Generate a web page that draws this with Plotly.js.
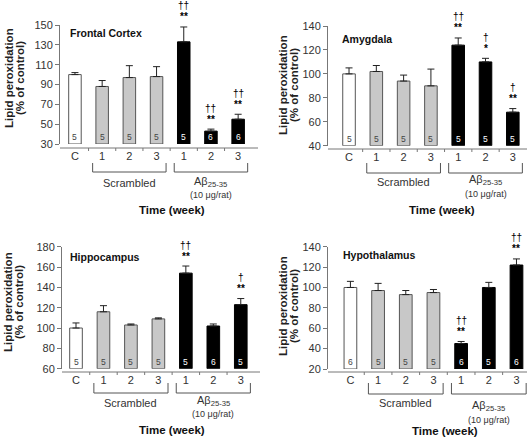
<!DOCTYPE html>
<html><head><meta charset="utf-8">
<script src="https://cdn.plot.ly/plotly-3.0.1.min.js"></script>
<style>html,body{margin:0;padding:0;background:#fff}#chart{width:532px;height:442px}</style>
</head><body><div id="chart"></div>
<script>
// ---------- data ----------
const tickLabels = ["C", "1", "2", "3", "1", "2", "3"];
const groupNames = ["Control", "Scrambled", "Scrambled", "Scrambled", "Aβ25-35", "Aβ25-35", "Aβ25-35"];

const frontalVals = [100, 88, 97, 98, 133, 43, 55];
const frontalErr  = [2, 6, 12, 10, 15, 2, 5];
const frontalN    = [5, 5, 5, 5, 5, 6, 6];
const frontalDag  = ["", "", "", "", "††", "††", "††"];
const frontalStar = ["", "", "", "", "**", "**", "**"];

const amygVals = [100, 102, 94, 90, 124, 110, 68];
const amygErr  = [5, 5, 5, 14, 6, 3, 3];
const amygN    = [5, 5, 5, 5, 5, 5, 5];
const amygDag  = ["", "", "", "", "††", "†", "†"];
const amygStar = ["", "", "", "", "**", "*", "**"];

const hippoVals = [100, 116, 103, 109, 154, 102, 123];
const hippoErr  = [5, 6, 1, 1, 7, 2, 6];
const hippoN    = [5, 5, 5, 5, 5, 6, 5];
const hippoDag  = ["", "", "", "", "††", "", "†"];
const hippoStar = ["", "", "", "", "**", "", "**"];

const hypoVals = [100, 97, 93, 95, 45, 100, 122];
const hypoErr  = [6, 7, 4, 3, 2, 5, 6];
const hypoN    = [6, 5, 5, 5, 6, 5, 6];
const hypoDag  = ["", "", "", "", "††", "", "††"];
const hypoStar = ["", "", "", "", "**", "", "**"];

// ---------- layout config (pixels) ----------
const W = 532, H = 442;
const px = p => p / W;
const py = p => 1 - p / H;
const FONT = "Liberation Sans, Arial, sans-serif";

const panels = [
  {name: "Frontal Cortex", vals: frontalVals, errs: frontalErr, n: frontalN, dag: frontalDag, star: frontalStar,
   L: 60, R: 258, T: 25, B: 144, yr: [30, 150], xr: [-0.55, 6.73],
   titleX: 68, titleY: 33, ytX: [9, 20], ytY: 78, lineY: 148, brTop: 163, brBot: 172,
   scrY: 183, abY: 182, abSubY: 195, timeY: 210, timeX: 3.55},
  {name: "Amygdala", vals: amygVals, errs: amygErr, n: amygN, dag: amygDag, star: amygStar,
   L: 328, R: 527, T: 26, B: 145.7, yr: [40, 140], xr: [-0.77, 6.52],
   titleX: 340, titleY: 39, ytX: [283, 294], ytY: 85, lineY: 149, brTop: 163, brBot: 173,
   scrY: 182, abY: 180, abSubY: 194, timeY: 210, timeX: 3.4},
  {name: "Hippocampus", vals: hippoVals, errs: hippoErr, n: hippoN, dag: hippoDag, star: hippoStar,
   L: 62, R: 260, T: 246.7, B: 368.7, yr: [60, 180], xr: [-0.51, 6.7],
   titleX: 68, titleY: 257, ytX: [8, 19], ytY: 302, lineY: 372, brTop: 383, brBot: 393,
   scrY: 403, abY: 401, abSubY: 414, timeY: 430, timeX: 3.5},
  {name: "Hypothalamus", vals: hypoVals, errs: hypoErr, n: hypoN, dag: hypoDag, star: hypoStar,
   L: 328, R: 527, T: 246.7, B: 369, yr: [20, 140], xr: [-0.81, 6.38],
   titleX: 341, titleY: 255, ytX: [283, 294], ytY: 306, lineY: 372, brTop: 383, brBot: 394,
   scrY: 403, abY: 406, abSubY: 420, timeY: 431, timeX: 3.4}
];

const fillFor = i => i === 0 ? "#ffffff" : (i < 4 ? "#c8c8c8" : "#000000");
const lineFor = i => i === 0 ? "#555555" : (i < 4 ? "#555555" : "#000000");

const traces = [];
const layout = {
  width: W, height: H, margin: {l: 0, r: 0, t: 0, b: 0},
  paper_bgcolor: "#fff", plot_bgcolor: "rgba(0,0,0,0)",
  font: {family: FONT, color: "#333"},
  showlegend: false, annotations: [], shapes: []
};

panels.forEach((p, k) => {
  const sfx = k === 0 ? "" : String(k + 1);
  const xa = "x" + sfx, ya = "y" + sfx;
  const idx = p.vals.map((_, i) => i);
  const base = p.yr[0];
  traces.push({
    type: "bar", x: idx, y: p.vals.map(v => v - base), base: base, width: 0.46,
    customdata: groupNames, hoverinfo: "none",
    marker: {color: idx.map(fillFor), line: {color: idx.map(lineFor), width: 1}},
    error_y: {type: "data", symmetric: false, array: p.errs, arrayminus: p.errs.map(() => 0),
              color: "#222", thickness: 1, width: 3.5},
    xaxis: xa, yaxis: ya, showlegend: false
  });
  layout["xaxis" + sfx] = {
    domain: [px(p.L), px(p.R)], range: p.xr, anchor: "free", position: py(p.lineY),
    tickmode: "array", tickvals: idx, ticktext: tickLabels, ticks: "",
    showline: false, showgrid: false, zeroline: false, fixedrange: true,
    tickfont: {size: 11, color: "#333", family: FONT}
  };
  layout["yaxis" + sfx] = {
    domain: [py(p.B), py(p.T)], range: p.yr, anchor: xa, dtick: 20, tick0: p.yr[0],
    showline: true, linecolor: "#777", linewidth: 1, ticks: "outside", ticklen: 4,
    tickcolor: "#777", showgrid: false, zeroline: false, fixedrange: true,
    tickfont: {size: 11, color: "#333", family: FONT}
  };
  // x axis line offset below bars, with ticks at category boundaries
  layout.shapes.push({type: "line", xref: "paper", yref: "paper", x0: px(p.L), x1: px(p.R),
    y0: py(p.lineY), y1: py(p.lineY), line: {color: "#777", width: 1}});
  for (let i = 0; i < idx.length - 1; i++) {
    layout.shapes.push({type: "line", xref: xa, yref: "paper", x0: i + 0.5, x1: i + 0.5,
      y0: py(p.lineY), y1: py(p.lineY + 3), line: {color: "#777", width: 1}});
  }
  // group brackets
  [[0.65, 3.35], [3.65, 6.35]].forEach(([a, b]) => {
    layout.shapes.push({type: "path", xref: xa, yref: "paper",
      path: `M ${a},${py(p.brTop)} L ${a},${py(p.brBot)} L ${b},${py(p.brBot)} L ${b},${py(p.brTop)}`,
      line: {color: "#555", width: 1}});
  });
  // n labels and significance markers
  idx.forEach(i => {
    layout.annotations.push({xref: xa, yref: ya, x: i, y: base, yanchor: "bottom", yshift: 0,
      text: String(p.n[i]), showarrow: false,
      font: {size: 8.5, color: i >= 4 ? "#fff" : "#444", family: FONT}});
    const top = p.vals[i] + p.errs[i];
    if (p.star[i]) layout.annotations.push({xref: xa, yref: ya, x: i, y: top, yanchor: "middle",
      yshift: 10, text: "<b>" + p.star[i] + "</b>", showarrow: false, font: {size: 10, color: "#000", family: FONT}});
    if (p.dag[i]) layout.annotations.push({xref: xa, yref: ya, x: i, y: top, yanchor: "middle",
      yshift: 21, text: p.dag[i], showarrow: false, font: {size: 10, color: "#000", family: FONT}});
  });
  // panel title
  layout.annotations.push({xref: "paper", yref: "paper", x: px(p.titleX), y: py(p.titleY),
    xanchor: "left", yanchor: "middle", showarrow: false, text: "<b>" + p.name + "</b>",
    font: {size: 10.5, color: "#111", family: FONT}});
  // y title (two lines)
  ["Lipid peroxidation", "(% of control)"].forEach((t, j) => {
    layout.annotations.push({xref: "paper", yref: "paper", x: px(p.ytX[j]), y: py(p.ytY),
      xanchor: "center", yanchor: "middle", textangle: -90, showarrow: false, text: "<b>" + t + "</b>",
      font: {size: 11.5, color: "#222", family: FONT}});
  });
  // group labels
  layout.annotations.push({xref: xa, yref: "paper", x: 2, y: py(p.scrY), yanchor: "middle",
    showarrow: false, text: "Scrambled", font: {size: 11, color: "#333", family: FONT}});
  layout.annotations.push({xref: xa, yref: "paper", x: 5, y: py(p.abY), yanchor: "middle",
    showarrow: false, text: "Aβ<sub>25-35</sub>", font: {size: 11, color: "#333", family: FONT}});
  layout.annotations.push({xref: xa, yref: "paper", x: 5, y: py(p.abSubY), yanchor: "middle",
    showarrow: false, text: "(10 μg/rat)", font: {size: 9, color: "#333", family: FONT}});
  // x title
  layout.annotations.push({xref: xa, yref: "paper", x: p.timeX, y: py(p.timeY), yanchor: "middle",
    showarrow: false, text: "<b>Time (week)</b>", font: {size: 11.5, color: "#111", family: FONT}});
});

Plotly.newPlot("chart", traces, layout, {displayModeBar: false, staticPlot: true});
</script></body></html>
